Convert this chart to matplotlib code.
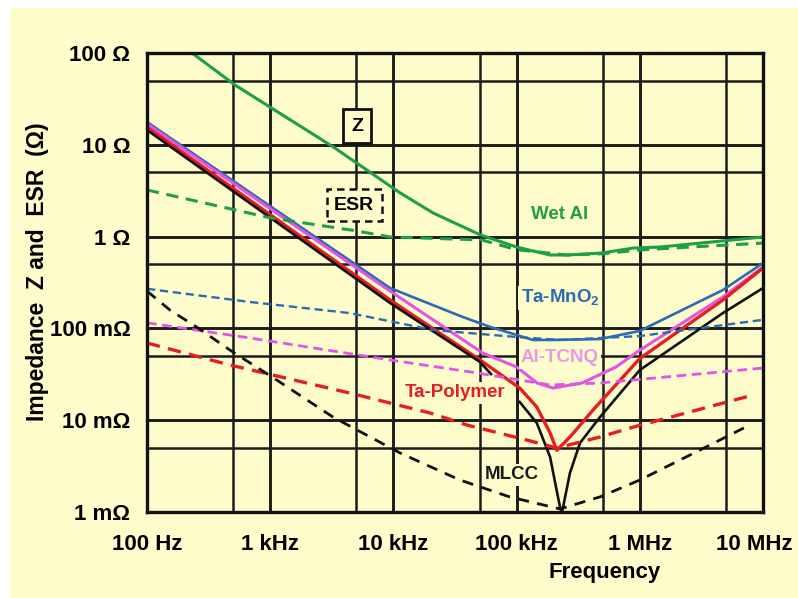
import matplotlib
matplotlib.use('Agg')
from matplotlib import pyplot as plt
from matplotlib.patches import Rectangle
from matplotlib.ticker import NullFormatter
from matplotlib.transforms import ScaledTranslation

# frequencies in Hz, impedance / ESR in ohm
wetal_z_f = [232, 518, 3.24e3, 1.13e4, 2.1e4, 5.1e4, 1e5, 1.87e5, 2.57e5, 4.93e5, 8.81e5, 1.46e6, 1e7]
wetal_z = [100, 44.8, 9.5, 3.0, 1.81, 1.04, 0.77, 0.63, 0.63, 0.663, 0.75, 0.77, 0.99]
wetal_esr_f = [100, 1e3, 4.9e3, 9.4e3, 5.2e4, 1e5, 2.57e5, 4.93e5, 1e6, 3.08e6, 1e7]
wetal_esr = [3.22, 1.60, 1.16, 0.99, 0.92, 0.72, 0.63, 0.65, 0.715, 0.78, 0.85]

mno2_z_f = [100, 9.4e3, 3.67e4, 6.08e4, 1.36e5, 1.87e5, 4.75e5, 1e6, 4.73e6, 1e7]
mno2_z = [17.7, 0.275, 0.133, 0.104, 0.0748, 0.0748, 0.0765, 0.094, 0.262, 0.515]
mno2_esr_f = [100, 686, 4.4e3, 2.1e4, 1e5, 2.25e5, 1e6, 1e7]
mno2_esr = [0.27, 0.194, 0.147, 0.096, 0.0806, 0.0748, 0.0825, 0.124]

tcnq_z_f = [100, 9.4e3, 5.3e4, 1e5, 1.47e5, 1.97e5, 3.38e5, 6.41e5, 1e6, 4.73e6, 1e7]
tcnq_z = [16.9, 0.255, 0.054, 0.038, 0.0254, 0.0224, 0.0254, 0.038, 0.058, 0.22, 0.466]
tcnq_esr_f = [100, 686, 9.4e3, 4.77e4, 1.87e5, 4.75e5, 1e7]
tcnq_esr = [0.115, 0.0786, 0.0453, 0.0327, 0.0242, 0.0254, 0.037]

poly_z_f = [100, 9.4e3, 5.05e4, 1.06e5, 1.46e5, 1.87e5, 2.12e5, 2.71e5, 4.17e5, 1e6, 4.73e6, 1e7]
poly_z = [15.6, 0.204, 0.0453, 0.0224, 0.0139, 0.00726, 0.0047, 0.00656, 0.0129, 0.047, 0.204, 0.455]
poly_esr_f = [100, 472, 4.4e3, 1.98e4, 3.95e4, 1.21e5, 2.12e5, 4.75e5, 8.81e5, 8.3e6]
poly_esr = [0.0693, 0.0399, 0.0198, 0.012, 0.00887, 0.00608, 0.00498, 0.00656, 0.0084, 0.0188]

# MLCC impedance is drawn in two pieces in the original
mlcc_z1_f = [100, 9.4e3, 5.05e4, 6.2e4]
mlcc_z1 = [14.5, 0.189, 0.043, 0.0318]
mlcc_z2_f = [1.06e5, 1.46e5, 1.87e5, 2.25e5, 2.34e5, 2.71e5, 3.27e5, 4.75e5, 1e6, 4.73e6, 1e7]
mlcc_z2 = [0.0158, 0.0093, 0.00397, 0.00113, 0.00100, 0.00266, 0.00565, 0.0108, 0.0352, 0.147, 0.275]
mlcc_esr_f = [100, 154, 254, 472, 1.13e3, 3.24e3, 1.13e4, 3.47e4, 8.8e4, 2.25e5, 4.75e5, 1e6, 3.08e6, 7.8e6]
mlcc_esr = [0.255, 0.158, 0.103, 0.058, 0.0274, 0.0108, 0.0044, 0.00223, 0.00146, 0.00108, 0.00146,
            0.00223, 0.00473, 0.00887]

x_ticks = [1e2, 1e3, 1e4, 1e5, 1e6, 1e7]
x_labels = ['100 Hz', '1 kHz', '10 kHz', '100 kHz', '1 MHz', '10 MHz']
x_minor = [5e2, 5e3, 5e4, 5e5, 5e6]
y_ticks = [1e-3, 1e-2, 1e-1, 1, 10, 100]
y_labels = ['1 mΩ', '10 mΩ', '100 mΩ', '1 Ω', '10 Ω', '100 Ω']
y_minor = [5e-3, 5e-2, 0.5, 5, 50]

bg = '#FFFCCC'
green = '#1E9E48'
blue = '#2B6CB0'
pink = '#E255E4'
red = '#E61E22'
black = '#111111'

plt.rcParams['font.family'] = ['Liberation Sans', 'DejaVu Sans']
plt.rcParams['font.weight'] = 'bold'
plt.rcParams['mathtext.fontset'] = 'custom'
plt.rcParams['mathtext.bf'] = 'Liberation Sans:bold'
plt.rcParams['mathtext.rm'] = 'Liberation Sans:bold'

fig = plt.figure(figsize=(7.98, 5.98), dpi=100)
fig.patch.set_facecolor('white')
fig.patches.append(Rectangle((10 / 798, 0), 1, 1 - 8 / 598, transform=fig.transFigure,
                             facecolor=bg, edgecolor='none', zorder=-10))

ax = fig.add_axes([147 / 798, 1 - 512 / 598, 616 / 798, 459 / 598])
ax.set_facecolor(bg)
ax.set_xscale('log')
ax.set_yscale('log')
ax.set_xlim(1e2, 1e7)
ax.set_ylim(1e-3, 1e2)

ax.set_xticks(x_ticks)
ax.set_xticklabels(x_labels)
ax.set_xticks(x_minor, minor=True)
ax.set_yticks(y_ticks)
ax.set_yticklabels(y_labels)
ax.set_yticks(y_minor, minor=True)
ax.xaxis.set_minor_formatter(NullFormatter())
ax.yaxis.set_minor_formatter(NullFormatter())
ax.tick_params(axis='x', which='both', length=0, pad=16, labelsize=16)
ax.tick_params(axis='y', which='both', length=0, pad=12, labelsize=16)
ax.grid(which='major', color='#1c1c1c', lw=2.1)
ax.grid(which='minor', color='#1c1c1c', lw=1.8)
ax.set_axisbelow(True)
for s in ax.spines.values():
    s.set_linewidth(2.4)
    s.set_color('#111111')

# last frequency label sits a bit left of its grid line, so it stays inside the picture
last = ax.get_xticklabels()[-1]
last.set_transform(last.get_transform() + ScaledTranslation(-9 / 100, 0, fig.dpi_scale_trans))

# impedance curves
ax.plot(wetal_z_f, wetal_z, color=green, lw=2.2)
ax.plot(mno2_z_f, mno2_z, color=blue, lw=1.9)
ax.plot(tcnq_z_f, tcnq_z, color=pink, lw=2.2)
ax.plot(poly_z_f, poly_z, color=red, lw=2.4)
ax.plot(mlcc_z1_f, mlcc_z1, color=black, lw=1.9)
ax.plot(mlcc_z2_f, mlcc_z2, color=black, lw=1.9)

# ESR curves
ax.plot(wetal_esr_f, wetal_esr, color=green, lw=2.2, ls=(0, (4, 2.5)))
ax.plot(mno2_esr_f, mno2_esr, color=blue, lw=1.7, ls=(0, (3.5, 2)))
ax.plot(tcnq_esr_f, tcnq_esr, color=pink, lw=2.0, ls=(0, (3.5, 2)))
ax.plot(poly_esr_f, poly_esr, color=red, lw=2.4, ls=(0, (4, 2.5)))
ax.plot(mlcc_esr_f, mlcc_esr, color=black, lw=2.0, ls=(0, (4, 3)))

lab = dict(fontsize=13.5, fontweight='bold', ha='center', va='center', zorder=5,
           bbox=dict(boxstyle='square,pad=0.12', facecolor=bg, edgecolor='none'))
ax.text(2.25e5, 1.76, 'Wet Al', color=green, **lab)
ax.text(2.25e5, 0.214, 'Ta-MnO$_\\mathbf{2}$', color=blue, **lab)
ax.text(2.25e5, 0.0477, 'Al-TCNQ', color='#E49BE6', **lab)
ax.text(3.16e4, 0.0198, 'Ta-Polymer', color=red, **lab)
ax.text(9.2e4, 0.00253, 'MLCC', color='#1a1a1a', **lab)

ax.text(5.07e3, 16.0, 'Z', fontsize=14, fontweight='bold', ha='center', va='center', zorder=6,
        bbox=dict(boxstyle='square,pad=0.42', facecolor=bg, edgecolor='#111111', lw=2.0))
ax.text(4.8e3, 2.2, 'ESR', fontsize=14, fontweight='bold', ha='center', va='center', zorder=6,
        bbox=dict(boxstyle='square,pad=0.38', facecolor=bg, edgecolor='#111111', lw=1.8,
                  ls=(0, (3, 2))))

ax.set_xlabel('Frequency', fontsize=16, fontweight='bold')
ax.xaxis.set_label_coords((605 - 147) / 616, -(562 - 512) / 459)
ax.set_ylabel('Impedance  Z and  ESR  (Ω)', fontsize=16.5, fontweight='bold')
ax.yaxis.set_label_coords((49 - 147) / 616, (512 - 272) / 459)

plt.savefig('out.png', dpi=100, facecolor=fig.get_facecolor())
